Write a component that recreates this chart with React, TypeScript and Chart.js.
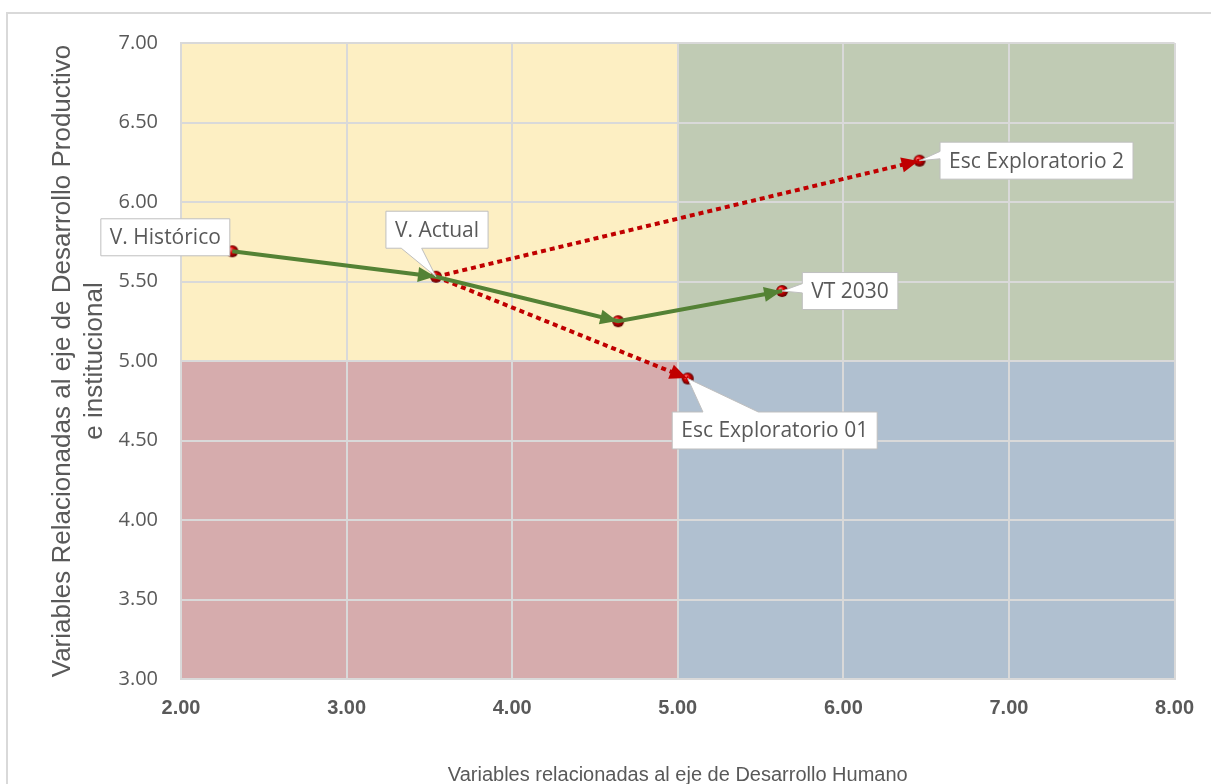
import React, { useEffect, useRef } from 'react';
import { Chart, registerables } from 'chart.js';

Chart.register(...registerables);

// ---------- data ----------
const pointNames = ['V. Histórico', 'V. Actual', '', 'VT 2030', 'Esc Exploratorio 2', 'Esc Exploratorio 01'];
const pointX = [2.31, 3.54, 4.64, 5.63, 6.46, 5.06];
const pointY = [5.69, 5.53, 5.25, 5.44, 6.26, 4.89];
const trendPath = [0, 1, 2, 3];
const scenario2Path = [1, 4];
const scenario1Path = [1, 5];
const xTickValues = [2, 3, 4, 5, 6, 7, 8];
const yTickValues = [3, 3.5, 4, 4.5, 5, 5.5, 6, 6.5, 7];
const quadrantSplitX = 5;
const quadrantSplitY = 5;
const xTitle = 'Variables relacionadas al eje de Desarrollo Humano';
const yTitle = ['Variables Relacionadas al eje de Desarrollo Productivo', 'e institucional'];

// ---------- styles ----------
const quadrantColors = {
  topLeft: 'rgb(253,239,195)',
  topRight: 'rgb(192,203,180)',
  bottomLeft: 'rgb(214,172,173)',
  bottomRight: 'rgb(176,192,208)',
};
const GREEN = '#548235';
const RED = '#C00000';
const TEXT = '#595959';
const GRID = '#D9D9D9';
const SANS = "'Liberation Sans', Arial, sans-serif";
const LABEL_FONT = "21px 'Open Sans', sans-serif";
// per label: box centre offset from point, pointer side and base fractions
const labelStyles = [
  { dx: -67, dy: -14, side: 'none', f0: 0, f1: 0 },
  { dx: 1, dy: -47, side: 'bottom', f0: 0.15, f1: 0.35 },
  { dx: 0, dy: 0, side: 'none', f0: 0, f1: 0 },
  { dx: 68, dy: 0, side: 'left', f0: 0.3, f1: 0.55 },
  { dx: 117, dy: 0, side: 'left', f0: 0.25, f1: 0.45 },
  { dx: 87, dy: 52, side: 'top', f0: 0.15, f1: 0.42 },
];

function makeSphere(r: number): HTMLCanvasElement {
  const c = document.createElement('canvas');
  const s = r * 2 + 2;
  c.width = s;
  c.height = s;
  const ctx = c.getContext('2d')!;
  const g = ctx.createRadialGradient(s / 2 - r * 0.35, s / 2 - r * 0.4, r * 0.1, s / 2, s / 2, r);
  g.addColorStop(0, '#ff7070');
  g.addColorStop(0.45, '#d40000');
  g.addColorStop(1, '#5a0000');
  ctx.fillStyle = g;
  ctx.beginPath();
  ctx.arc(s / 2, s / 2, r, 0, Math.PI * 2);
  ctx.fill();
  return c;
}

const bgPlugin = {
  id: 'quadrants',
  beforeDraw(chart: any) {
    const { ctx, chartArea: a, scales } = chart;
    ctx.save();
    ctx.fillStyle = '#ffffff';
    ctx.fillRect(0, 0, chart.width, chart.height);
    ctx.strokeStyle = GRID;
    ctx.lineWidth = 2;
    ctx.strokeRect(7, 13, chart.width + 20, chart.height + 20);
    const mx = scales.x.getPixelForValue(quadrantSplitX);
    const my = scales.y.getPixelForValue(quadrantSplitY);
    ctx.fillStyle = quadrantColors.topLeft;
    ctx.fillRect(a.left, a.top, mx - a.left, my - a.top);
    ctx.fillStyle = quadrantColors.topRight;
    ctx.fillRect(mx, a.top, a.right - mx, my - a.top);
    ctx.fillStyle = quadrantColors.bottomLeft;
    ctx.fillRect(a.left, my, mx - a.left, a.bottom - my);
    ctx.fillStyle = quadrantColors.bottomRight;
    ctx.fillRect(mx, my, a.right - mx, a.bottom - my);
    ctx.restore();
  },
};

const arrowPlugin = {
  id: 'arrows',
  afterDatasetsDraw(chart: any) {
    const { ctx } = chart;
    chart.data.datasets.forEach((ds: any, i: number) => {
      if (!ds.arrowColor) return;
      const pts = chart.getDatasetMeta(i).data;
      for (let k = 1; k < pts.length; k++) {
        const p0 = pts[k - 1];
        const p1 = pts[k];
        const ang = Math.atan2(p1.y - p0.y, p1.x - p0.x);
        const len = 17;
        const hw = 7.5;
        const tx = p1.x - Math.cos(ang) * 1;
        const ty = p1.y - Math.sin(ang) * 1;
        const bx = tx - Math.cos(ang) * len;
        const by = ty - Math.sin(ang) * len;
        ctx.save();
        ctx.fillStyle = ds.arrowColor;
        ctx.beginPath();
        ctx.moveTo(tx, ty);
        ctx.lineTo(bx + Math.sin(ang) * hw, by - Math.cos(ang) * hw);
        ctx.lineTo(bx - Math.sin(ang) * hw, by + Math.cos(ang) * hw);
        ctx.closePath();
        ctx.fill();
        ctx.restore();
      }
    });
  },
};

const labelPlugin = {
  id: 'callouts',
  afterDraw(chart: any) {
    const { ctx } = chart;
    const meta = chart.getDatasetMeta(0);
    ctx.save();
    ctx.font = LABEL_FONT;
    pointNames.forEach((name, i) => {
      if (!name) return;
      const st = labelStyles[i];
      const p = meta.data[i];
      const w = ctx.measureText(name).width + 18;
      const h = 37;
      const cx = p.x + st.dx;
      const cy = p.y + st.dy;
      const L = cx - w / 2;
      const R = cx + w / 2;
      const T = cy - h / 2;
      const B = cy + h / 2;
      const tip = { x: p.x, y: p.y };
      const path: [number, number][] = [];
      path.push([L, T]);
      if (st.side === 'top') {
        path.push([L + w * st.f0, T], [tip.x, tip.y], [L + w * st.f1, T]);
      }
      path.push([R, T]);
      if (st.side === 'right') {
        path.push([R, T + h * st.f0], [tip.x, tip.y], [R, T + h * st.f1]);
      }
      path.push([R, B]);
      if (st.side === 'bottom') {
        path.push([L + w * st.f1, B], [tip.x, tip.y], [L + w * st.f0, B]);
      }
      path.push([L, B]);
      if (st.side === 'left') {
        path.push([L, T + h * st.f1], [tip.x, tip.y], [L, T + h * st.f0]);
      }
      ctx.beginPath();
      path.forEach(([x, y], k) => (k === 0 ? ctx.moveTo(x, y) : ctx.lineTo(x, y)));
      ctx.closePath();
      ctx.fillStyle = '#ffffff';
      ctx.fill();
      ctx.strokeStyle = '#BFBFBF';
      ctx.lineWidth = 1;
      ctx.stroke();
      ctx.fillStyle = TEXT;
      ctx.textAlign = 'center';
      ctx.textBaseline = 'middle';
      ctx.fillText(name, cx, cy + 1);
    });
    ctx.restore();
  },
};

function pathData(idx: number[]) {
  return idx.map((k) => ({ x: pointX[k], y: pointY[k] }));
}

export default function App() {
  const ref = useRef<HTMLCanvasElement>(null);
  useEffect(() => {
    const canvas = ref.current!;
    const sphere = makeSphere(6);
    const chart = new Chart(canvas, {
      type: 'scatter',
      data: {
        datasets: [
          {
            label: 'Puntos',
            data: pointX.map((x, k) => ({ x, y: pointY[k] })),
            pointStyle: sphere as any,
            pointRadius: 6,
            showLine: false,
            order: 10,
          } as any,
          {
            label: 'Tendencia',
            data: pathData(trendPath),
            showLine: true,
            borderColor: GREEN,
            borderWidth: 4,
            pointRadius: 0,
            order: 1,
            arrowColor: GREEN,
          } as any,
          {
            label: 'Escenario 2',
            data: pathData(scenario2Path),
            showLine: true,
            borderColor: RED,
            borderWidth: 4,
            borderDash: [5, 4],
            pointRadius: 0,
            order: 2,
            arrowColor: RED,
          } as any,
          {
            label: 'Escenario 01',
            data: pathData(scenario1Path),
            showLine: true,
            borderColor: RED,
            borderWidth: 4,
            borderDash: [5, 4],
            pointRadius: 0,
            order: 2,
            arrowColor: RED,
          } as any,
        ],
      },
      options: {
        responsive: false,
        animation: false,
        devicePixelRatio: 1,
        layout: { padding: { left: 0, top: 43, right: 34, bottom: 0 } },
        plugins: { legend: { display: false }, tooltip: { enabled: false } },
        scales: {
          x: {
            type: 'linear',
            min: xTickValues[0],
            max: xTickValues[xTickValues.length - 1],
            afterBuildTicks: (s: any) => {
              s.ticks = xTickValues.map((v) => ({ value: v }));
            },
            afterFit: (s: any) => {
              s.height = 105;
            },
            grid: { color: GRID, lineWidth: 2, drawTicks: false },
            border: { color: GRID, width: 2 },
            ticks: {
              color: TEXT,
              padding: 17,
              font: { family: SANS, size: 20, weight: 'bold' },
              callback: (v: any) => Number(v).toFixed(2),
            },
            title: {
              display: true,
              text: xTitle,
              color: TEXT,
              font: { family: SANS, size: 20 },
              padding: { top: 0, bottom: -3 },
            },
          },
          y: {
            type: 'linear',
            min: yTickValues[0],
            max: yTickValues[yTickValues.length - 1],
            afterBuildTicks: (s: any) => {
              s.ticks = yTickValues.map((v) => ({ value: v }));
            },
            afterFit: (s: any) => {
              s.width = 181;
            },
            grid: { color: GRID, lineWidth: 2, drawTicks: false },
            border: { color: GRID, width: 2 },
            ticks: {
              color: TEXT,
              padding: 23,
              font: { family: "'Open Sans', sans-serif", size: 20 },
              callback: (v: any) => Number(v).toFixed(2),
            },
            title: {
              display: true,
              text: yTitle,
              color: TEXT,
              font: { family: SANS, size: 26, lineHeight: 1.23 },
              padding: { top: 47, bottom: 0 },
            },
          },
        },
      },
      plugins: [bgPlugin, arrowPlugin, labelPlugin],
    });
    return () => chart.destroy();
  }, []);
  return (
    <div style={{ position: 'fixed', left: 0, top: 0, width: 1211, height: 784, background: '#fff' }}>
      <canvas ref={ref} width={1211} height={784} style={{ display: 'block', width: 1211, height: 784 }} />
    </div>
  );
}
